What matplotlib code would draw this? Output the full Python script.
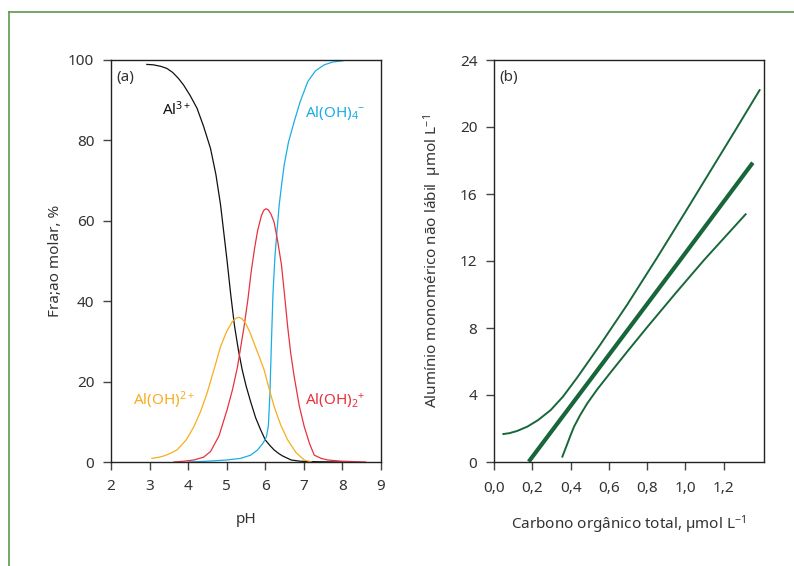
import matplotlib
matplotlib.use('Agg')
import matplotlib.pyplot as plt
from matplotlib.lines import Line2D

plt.rcParams['font.family'] = ['Noto Sans', 'DejaVu Sans']
plt.rcParams['mathtext.fontset'] = 'custom'
plt.rcParams['mathtext.rm'] = 'Noto Sans'
plt.rcParams['mathtext.it'] = 'Noto Sans'
plt.rcParams['mathtext.default'] = 'rm'
plt.rcParams['lines.solid_joinstyle'] = 'round'

# Painel (a): especiação do alumínio em função do pH
ph_al3 = [2.93, 3.1, 3.3, 3.45, 3.6, 3.75, 3.88, 4.05, 4.23, 4.4, 4.58, 4.72, 4.84, 5.01,
          5.1, 5.2, 5.3, 5.4, 5.5, 5.62, 5.75, 5.88, 6.0, 6.12, 6.23, 6.35, 6.45, 6.67,
          6.9, 7.1, 7.5, 8.0]
frac_al3 = [98.9, 98.8, 98.4, 97.9, 96.9, 95.4, 93.8, 91.2, 88, 83.5, 78, 71.5, 64, 50,
            42, 34, 28, 23, 19, 15, 11, 8, 5.5, 4.1, 3, 2.1, 1.5, 0.5,
            0.2, 0.1, 0.05, 0]

ph_aloh4 = [4.0, 4.5, 5.0, 5.36, 5.62, 5.8, 5.95, 6.03, 6.08, 6.12, 6.16, 6.2, 6.25, 6.3,
            6.36, 6.43, 6.49, 6.6, 6.75, 6.9, 7.1, 7.3, 7.53, 7.75, 8.01]
frac_aloh4 = [0, 0.2, 0.5, 0.9, 1.7, 3.0, 4.8, 6.3, 9, 17, 30, 42, 51, 57,
              63.9, 69.5, 73.9, 79.5, 84.7, 89.5, 94.6, 97.3, 98.8, 99.5, 99.8]

ph_aloh2 = [3.63, 3.9, 4.15, 4.4, 4.58, 4.8, 5.01, 5.15, 5.28, 5.45, 5.55, 5.63, 5.72, 5.8,
            5.9, 5.96, 6.02, 6.08, 6.15, 6.23, 6.32, 6.42, 6.5, 6.58, 6.66, 6.75, 6.88,
            7.01, 7.15, 7.27, 7.45, 7.62, 7.97, 8.6]
frac_aloh2 = [0, 0.2, 0.5, 1.2, 2.6, 6.5, 13, 18, 23.7, 33.7, 40.5, 47, 53, 57.5,
              61.3, 62.6, 63, 62.7, 61.6, 59.6, 55, 49, 41.5, 33.7, 27, 21.2, 14,
              8.8, 4.5, 1.7, 0.9, 0.5, 0.2, 0]

ph_aloh = [3.06, 3.25, 3.4, 3.55, 3.71, 3.95, 4.15, 4.32, 4.49, 4.67, 4.84, 5.0, 5.15, 5.25,
           5.32, 5.4, 5.5, 5.6, 5.71, 5.84, 5.97, 6.1, 6.23, 6.4, 6.58, 6.8, 7.01, 7.2]
frac_aloh = [0.9, 1.2, 1.6, 2.2, 3, 5.5, 8.8, 12.5, 17.1, 23, 28.7, 32.5, 35, 35.8,
             36, 35.6, 34.3, 32.3, 29.5, 26.3, 22.9, 18.2, 13.8, 9.2, 5.5, 2.3, 0.5, 0]

# Painel (b): Al monomérico não lábil vs carbono orgânico total
cot_sup = [0.049, 0.08, 0.12, 0.174, 0.23, 0.296, 0.36, 0.435, 0.557, 0.696, 0.849, 1.0,
           1.131, 1.26, 1.387]
al_sup = [1.67, 1.72, 1.85, 2.11, 2.5, 3.10, 3.9, 5.05, 7.04, 9.40, 12.15, 14.94,
          17.39, 19.8, 22.2]

cot_reg = [0.188, 0.975, 1.345]
al_reg = [0.12, 12.1, 17.77]

cot_inf = [0.357, 0.38, 0.40, 0.418, 0.45, 0.487, 0.54, 0.609, 0.70, 0.80, 0.95, 1.097, 1.314]
al_inf = [0.32, 1.0, 1.6, 2.11, 2.8, 3.5, 4.35, 5.35, 6.65, 8.05, 10.1, 12.06, 14.79]

cor_texto = '#333333'
preto = '#111111'
azul = '#1aade6'
vermelho = '#e8323c'
laranja = '#f7ad1e'
verde = '#17673a'

fig = plt.figure(figsize=(7.94, 5.66), dpi=100)

# Moldura verde
fig.add_artist(Line2D([9 / 794, 1.0], [1 - 12 / 566, 1 - 12 / 566], color='#5c9a4c', lw=1.2))
fig.add_artist(Line2D([9 / 794, 9 / 794], [0, 1 - 12 / 566], color='#5c9a4c', lw=1.2))

ax1 = fig.add_axes([111 / 794, 1 - 462 / 566, 270 / 794, 402 / 566])
ax2 = fig.add_axes([494 / 794, 1 - 462 / 566, 270 / 794, 402 / 566])

for ax in (ax1, ax2):
    for s in ax.spines.values():
        s.set_color('#222222')
        s.set_linewidth(1.0)
    ax.tick_params(direction='out', length=6, width=1, colors='#444444',
                   labelcolor=cor_texto, labelsize=11, pad=6)

# (a)
ax1.plot(ph_al3, frac_al3, color=preto, lw=0.9)
ax1.plot(ph_aloh4, frac_aloh4, color=azul, lw=0.9)
ax1.plot(ph_aloh2, frac_aloh2, color=vermelho, lw=0.9)
ax1.plot(ph_aloh, frac_aloh, color=laranja, lw=0.9)
ax1.set_xlim(2, 9)
ax1.set_ylim(0, 100)
ax1.set_xticks(range(2, 10))
ax1.set_yticks(range(0, 101, 20))
ax1.set_xlabel('pH', fontsize=11, color=cor_texto)
ax1.set_ylabel('Fra;ao molar, %', fontsize=11, color=cor_texto)
ax1.xaxis.set_label_coords(0.5, -0.125)
ax1.yaxis.set_label_coords(-0.178, 0.5)
ax1.text(0.02, 0.975, '(a)', transform=ax1.transAxes, fontsize=11, color=cor_texto, va='top')
ax1.text(3.71, 87.6, r'Al$^{3+}$', fontsize=11, color=preto, ha='center', va='center')
ax1.text(7.81, 86.8, r'Al(OH)$_4$$^{-}$', fontsize=11, color=azul, ha='center', va='center')
ax1.text(3.37, 15.4, r'Al(OH)$^{2+}$', fontsize=11, color=laranja, ha='center', va='center')
ax1.text(7.81, 15.4, r'Al(OH)$_2$$^{+}$', fontsize=11, color=vermelho, ha='center', va='center')

# (b)
ax2.plot(cot_sup, al_sup, color=verde, lw=1.4)
ax2.plot(cot_reg, al_reg, color=verde, lw=3.0)
ax2.plot(cot_inf, al_inf, color=verde, lw=1.4)
ax2.set_xlim(0, 1.41)
ax2.set_ylim(0, 24)
ax2.set_xticks([0, 0.2, 0.4, 0.6, 0.8, 1.0, 1.2])
ax2.set_xticklabels(['0,0', '0,2', '0,4', '0,6', '0,8', '1,0', '1,2'])
ax2.set_yticks(range(0, 25, 4))
ax2.tick_params(axis='x', pad=8)
ax2.set_xlabel(r'Carbono orgânico total, µmol L$^{-1}$', fontsize=11, color=cor_texto)
ax2.set_ylabel(r'Alumínio monomérico não lábil  µmol L$^{-1}$', fontsize=11, color=cor_texto)
ax2.xaxis.set_label_coords(0.5, -0.127)
ax2.yaxis.set_label_coords(-0.185, 0.5)
ax2.text(0.02, 0.975, '(b)', transform=ax2.transAxes, fontsize=11, color=cor_texto, va='top')

fig.savefig('out.png', dpi=100)
